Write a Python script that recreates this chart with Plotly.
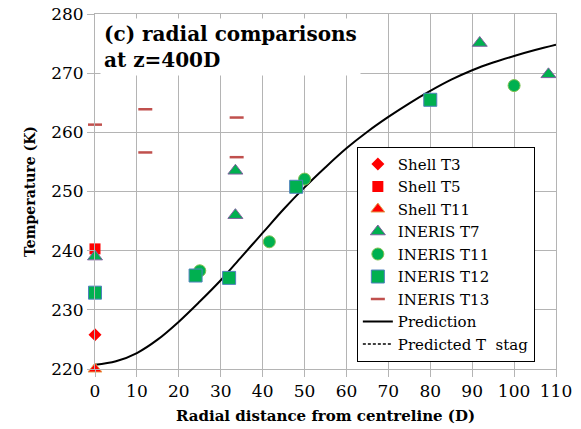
import plotly.graph_objects as go

# Measured radial temperature profiles at z = 400D
shell_t3_r = [0]
shell_t3_T = [225.8]
shell_t5_r = [0]
shell_t5_T = [240.3]
shell_t11_r = [0]
shell_t11_T = [220.0]

ineris_t7_r = [0, 33.5, 33.5, 91.8, 108.2]
ineris_t7_T = [239.0, 253.5, 246.0, 275.1, 269.8]
ineris_t11_r = [25, 41.6, 50, 100]
ineris_t11_T = [236.6, 241.5, 252.1, 267.9]
ineris_t12_r = [0, 24, 32, 48, 80]
ineris_t12_T = [232.9, 235.8, 235.4, 250.8, 265.5]
ineris_t13_r = [0, 12, 12, 33.8, 33.8]
ineris_t13_T = [261.3, 263.9, 256.6, 262.5, 255.8]

# Model prediction
pred_r = [0, 5, 10, 15, 20, 25, 30, 35, 40, 45, 50, 55, 60, 65, 70, 75,
          80, 85, 90, 95, 100, 105, 110]
pred_T = [220.7, 221.3, 222.7, 225.0, 228.0, 231.4, 235.0, 239.0, 243.0,
          247.0, 250.7, 254.1, 257.3, 260.1, 262.6, 264.9, 267.0, 268.9,
          270.5, 271.8, 272.9, 273.9, 274.8]

x_ticks = [0, 10, 20, 30, 40, 50, 60, 70, 80, 90, 100, 110]
y_ticks = [220, 230, 240, 250, 260, 270, 280]

SERIF = "DejaVu Serif"
GREEN = "#00b050"
RED = "#ff0000"

fig = go.Figure()

fig.add_trace(go.Scatter(x=pred_r, y=pred_T, mode="lines", name="Prediction",
                         line=dict(color="black", width=2, shape="spline"),
                         showlegend=False))

fig.add_trace(go.Scatter(x=shell_t3_r, y=shell_t3_T, mode="markers", name="Shell T3",
                         marker=dict(symbol="diamond", color=RED, size=10)))
fig.add_trace(go.Scatter(x=shell_t5_r, y=shell_t5_T, mode="markers", name="Shell T5",
                         marker=dict(symbol="square", color=RED, size=11)))
fig.add_trace(go.Scatter(x=shell_t11_r, y=shell_t11_T, mode="markers", name="Shell T11",
                         marker=dict(symbol="triangle-up", color=RED, size=12,
                                     line=dict(color="#e5a050", width=1))))
fig.add_trace(go.Scatter(x=ineris_t7_r, y=ineris_t7_T, mode="markers", name="INERIS T7",
                         marker=dict(symbol="triangle-up", color=GREEN, size=13,
                                     line=dict(color="#7f5fa0", width=1))))
fig.add_trace(go.Scatter(x=ineris_t11_r, y=ineris_t11_T, mode="markers", name="INERIS T11",
                         marker=dict(symbol="circle", color=GREEN, size=12,
                                     line=dict(color="#7fc050", width=1))))
fig.add_trace(go.Scatter(x=ineris_t12_r, y=ineris_t12_T, mode="markers", name="INERIS T12",
                         marker=dict(symbol="square", color=GREEN, size=13,
                                     line=dict(color="#4f81bd", width=1))))
fig.add_trace(go.Scatter(x=ineris_t13_r, y=ineris_t13_T, mode="markers", name="INERIS T13",
                         marker=dict(symbol="line-ew", size=10,
                                     line=dict(color="#c0504d", width=2.5))))

# legend entries for the line series
fig.add_trace(go.Scatter(x=[None], y=[None], mode="lines", name="Prediction",
                         line=dict(color="black", width=2)))
fig.add_trace(go.Scatter(x=[None], y=[None], mode="lines", name="Predicted T  stag",
                         line=dict(color="black", width=1.5, dash="3px,2px")))

for tr in fig.data:
    tr.cliponaxis = False

grid = "#b4b4b4"
fig.update_layout(
    width=581, height=429,
    margin=dict(l=95, r=25, t=14, b=60),
    paper_bgcolor="white", plot_bgcolor="white",
    font=dict(family=SERIF, color="black", size=16),
    xaxis=dict(range=[0, 110], tickvals=x_ticks, showgrid=True, gridcolor=grid,
               ticks="outside", ticklen=7, tickcolor=grid, zeroline=False,
               showline=True, linecolor=grid, mirror=True, automargin=False,
               tickfont=dict(family=SERIF, size=17),
               title=dict(text="<b>Radial distance from centreline (D)</b>",
                          font=dict(family=SERIF, size=15), standoff=10)),
    yaxis=dict(range=[220, 280], tickvals=y_ticks, showgrid=True, gridcolor=grid,
               ticks="outside", ticklen=7, tickcolor=grid, zeroline=False,
               showline=True, linecolor=grid, mirror=True, automargin=False,
               tickfont=dict(family=SERIF, size=17),
               title=dict(text="<b>Temperature (K)</b>",
                          font=dict(family=SERIF, size=14), standoff=12)),
    legend=dict(x=0.568, y=0.626, xanchor="left", yanchor="top",
                bgcolor="white", bordercolor="black", borderwidth=1,
                font=dict(family=SERIF, size=15), tracegroupgap=0,
                itemwidth=30),
    showlegend=True,
)

fig.add_annotation(
    xref="paper", yref="paper", x=0.01, y=0.99, xanchor="left", yanchor="top",
    text="<b>(c) radial comparisons<br>at z=400D</b>", showarrow=False,
    align="left", bgcolor="white", borderpad=3,
    font=dict(family=SERIF, size=20, color="black"),
)

fig.write_html("out.html")
